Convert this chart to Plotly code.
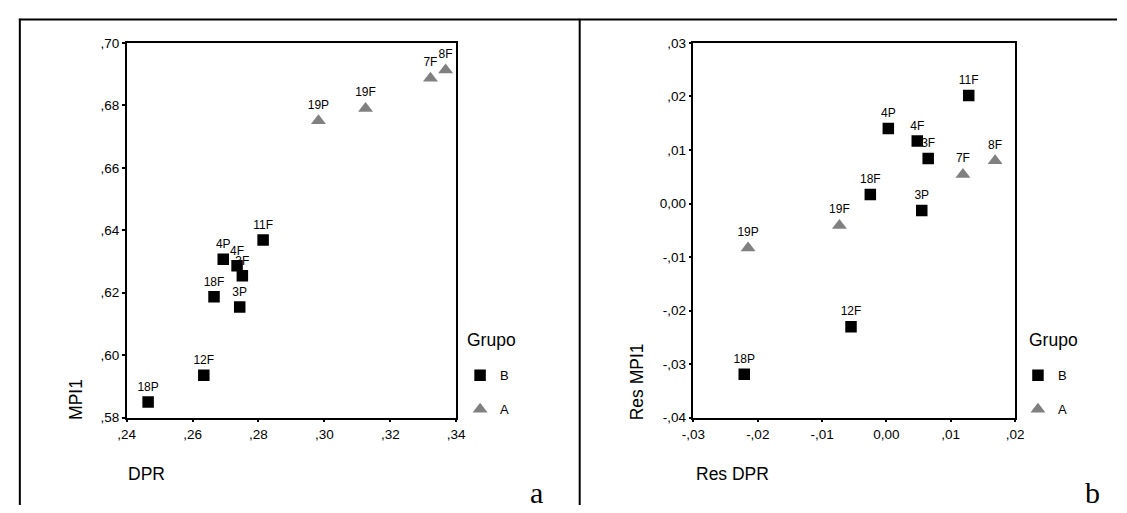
import plotly.graph_objects as go

# ---------------- Data: panel a (DPR vs MPI1) ----------------
labels_B = ["18P", "12F", "18F", "3P", "4P", "4F", "3F", "11F"]
dpr_B = [0.2465, 0.2634, 0.2665, 0.2743, 0.2693, 0.2735, 0.2751, 0.2814]
mpi_B = [0.5850, 0.5936, 0.6187, 0.6154, 0.6307, 0.6286, 0.6254, 0.6369]

labels_A = ["19P", "19F", "7F", "8F"]
dpr_A = [0.2982, 0.3125, 0.3322, 0.3368]
mpi_A = [0.6751, 0.6790, 0.6887, 0.6913]

# ---------------- Data: panel b (Res DPR vs Res MPI1) ----------------
res_dpr_B = [-0.0221, -0.0055, -0.0025, 0.0055, 0.0003, 0.0048, 0.0065, 0.0128]
res_mpi_B = [-0.0319, -0.0230, 0.0017, -0.0013, 0.0140, 0.0117, 0.0084, 0.0202]

res_dpr_A = [-0.0215, -0.0073, 0.0119, 0.0169]
res_mpi_A = [-0.0083, -0.0041, 0.0054, 0.0080]

# ---------------- Ticks ----------------
x_ticks_a = [0.24, 0.26, 0.28, 0.30, 0.32, 0.34]
x_ticktext_a = [",24", ",26", ",28", ",30", ",32", ",34"]
y_ticks_a = [0.58, 0.60, 0.62, 0.64, 0.66, 0.68, 0.70]
y_ticktext_a = [",58", ",60", ",62", ",64", ",66", ",68", ",70"]

x_ticks_b = [-0.03, -0.02, -0.01, 0.0, 0.01, 0.02]
x_ticktext_b = ["-,03", "-,02", "-,01", "0,00", ",01", ",02"]
y_ticks_b = [-0.04, -0.03, -0.02, -0.01, 0.0, 0.01, 0.02, 0.03]
y_ticktext_b = ["-,04", "-,03", "-,02", "-,01", "0,00", ",01", ",02", ",03"]

group_names = ["B", "A"]
group_title = "Grupo"

SANS = "Arial, Liberation Sans, sans-serif"
SERIF = "Times New Roman, Liberation Serif, serif"
COL_B = "black"
COL_A = "#808080"
SIZE_B = 11.5
SIZE_A = 13

W, H = 1127, 513


def px_x(p):
    return p / W


def px_y(p):
    return 1 - p / H


fig = go.Figure()


def add_panel(xs_B, ys_B, xs_A, ys_A, xa, ya, legend_id):
    # label layers first so that markers can overlap them, as in the original
    for xs, ys, labs, sz in ((xs_B, ys_B, labels_B, SIZE_B), (xs_A, ys_A, labels_A, SIZE_A)):
        fig.add_trace(go.Scatter(
            x=xs, y=ys, text=labs, mode="markers+text", textposition="top center",
            textfont=dict(family=SANS, size=12, color="black"),
            marker=dict(size=sz, color="rgba(0,0,0,0)"),
            xaxis=xa, yaxis=ya, showlegend=False, hoverinfo="skip"))
    fig.add_trace(go.Scatter(
        x=xs_B, y=ys_B, mode="markers", name=group_names[0],
        marker=dict(symbol="square", size=SIZE_B, color=COL_B),
        xaxis=xa, yaxis=ya, legend=legend_id, legendgroup=legend_id + "B"))
    fig.add_trace(go.Scatter(
        x=xs_A, y=ys_A, mode="markers", name=group_names[1],
        marker=dict(symbol="triangle-up", size=SIZE_A, color=COL_A),
        xaxis=xa, yaxis=ya, legend=legend_id, legendgroup=legend_id + "A"))


add_panel(dpr_B, mpi_B, dpr_A, mpi_A, "x", "y", "legend")
add_panel(res_dpr_B, res_mpi_B, res_dpr_A, res_mpi_A, "x2", "y2", "legend2")

axis_common = dict(
    showline=True, mirror=True, linecolor="black", linewidth=1.5,
    ticks="outside", ticklen=3, tickwidth=2, tickcolor="black",
    showgrid=False, zeroline=False,
    tickfont=dict(family=SANS, size=13.5, color="black"),
)

y_dom = [px_y(423), px_y(37)]

legend_common = dict(
    xanchor="left", yanchor="top",
    font=dict(family=SANS, size=13, color="black"),
    tracegroupgap=14, bgcolor="rgba(0,0,0,0)", itemwidth=30,
)

fig.update_layout(
    width=W, height=H,
    margin=dict(l=0, r=0, t=0, b=0),
    paper_bgcolor="white", plot_bgcolor="white",
    showlegend=True,
    xaxis=dict(domain=[px_x(117), px_x(453)], range=[0.24, 0.34], anchor="y",
               tickvals=x_ticks_a, ticktext=x_ticktext_a, **axis_common),
    yaxis=dict(domain=y_dom, range=[0.58, 0.70], anchor="x",
               tickvals=y_ticks_a, ticktext=y_ticktext_a, **axis_common),
    xaxis2=dict(domain=[px_x(695), px_x(1023)], range=[-0.03, 0.02], anchor="y2",
                tickvals=x_ticks_b, ticktext=x_ticktext_b, **axis_common),
    yaxis2=dict(domain=y_dom, range=[-0.04, 0.03], anchor="x2",
                tickvals=y_ticks_b, ticktext=y_ticktext_b, **axis_common),
    legend=dict(x=px_x(457), y=px_y(364), **legend_common),
    legend2=dict(x=px_x(1026), y=px_y(364), **legend_common),
)

title_font = dict(family=SANS, size=17.5, color="black")
annotations = [
    dict(text="DPR", x=px_x(116), y=px_y(481), xanchor="left", yanchor="middle", font=title_font),
    dict(text="MPI1", x=px_x(65), y=px_y(404), xanchor="center", yanchor="middle",
         textangle=-90, font=title_font),
    dict(text="Res DPR", x=px_x(696), y=px_y(481), xanchor="left", yanchor="middle", font=title_font),
    dict(text="Res MPI1", x=px_x(637), y=px_y(386), xanchor="center", yanchor="middle",
         textangle=-90, font=title_font),
    dict(text=group_title, x=px_x(462), y=px_y(343), xanchor="left", yanchor="middle", font=title_font),
    dict(text=group_title, x=px_x(1035), y=px_y(343), xanchor="left", yanchor="middle", font=title_font),
    dict(text="a", x=px_x(535), y=px_y(519), xanchor="center", yanchor="bottom",
         font=dict(family=SERIF, size=30, color="black")),
    dict(text="b", x=px_x(1102), y=px_y(519), xanchor="center", yanchor="bottom",
         font=dict(family=SERIF, size=30, color="black")),
]
for a in annotations:
    a.update(xref="paper", yref="paper", showarrow=False)
fig.update_layout(annotations=annotations)

line = dict(color="black", width=2)
fig.update_layout(shapes=[
    dict(type="line", xref="paper", yref="paper", x0=px_x(7), x1=1, y0=px_y(13), y1=px_y(13), line=line),
    dict(type="line", xref="paper", yref="paper", x0=px_x(8), x1=px_x(8), y0=px_y(12), y1=0, line=line),
    dict(type="line", xref="paper", yref="paper", x0=px_x(579), x1=px_x(579), y0=px_y(12), y1=0, line=line),
])

fig.write_html(
    "out.html",
    config={"displayModeBar": False},
    post_script="document.body.style.margin='0';document.body.style.overflow='hidden';",
)
